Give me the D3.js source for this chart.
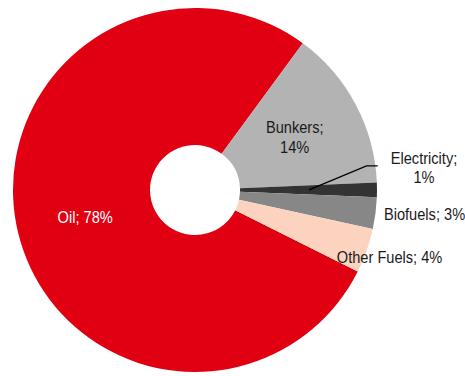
<!DOCTYPE html>
<html>
<head>
<meta charset="utf-8">
<script src="https://cdn.jsdelivr.net/npm/d3@7"></script>
<style>
  html, body { margin: 0; padding: 0; background: #ffffff; }
  svg { display: block; }
</style>
</head>
<body>
<svg id="chart" width="465" height="376"></svg>
<script>
// Data (clockwise order, starting with Oil)
const categories = ["Oil", "Bunkers", "Electricity", "Biofuels", "Other Fuels"];
const values = [77.7, 14.25, 1.3, 2.8, 3.95];
const labelTexts = [["Oil; 78%"], ["Bunkers;", "14%"], ["Electricity;", "1%"], ["Biofuels; 3%"], ["Other Fuels; 4%"]];
const colors = ["#E00012", "#B3B3B3", "#333333", "#878787", "#FCD3BE"];

const svg = d3.select("#chart");
const cx = 195, cy = 190, outerR = 182, innerR = 45;
const startDeg = 116.6;
const start = startDeg * Math.PI / 180;

const pie = d3.pie().sort(null).value(d => d.v)
  .startAngle(start).endAngle(start + 2 * Math.PI);
const data = categories.map((c, i) => ({ c, v: values[i], i }));
const arcs = pie(data);
const arc = d3.arc().innerRadius(innerR).outerRadius(outerR);

const g = svg.append("g").attr("transform", `translate(${cx},${cy})`);
g.selectAll("path.slice").data(arcs).enter().append("path")
  .attr("class", "slice")
  .attr("d", arc)
  .attr("fill", d => colors[d.data.i]);

function polar(angle, r) { return [r * Math.sin(angle), -r * Math.cos(angle)]; }
function mid(d) { return (d.startAngle + d.endAngle) / 2; }

// label layout: inside labels at radius; outside labels offset from outer arc point
const fontSize = 17, lineH = 19.5, sx = 0.86;
const layout = [
  { mode: "in", r: 113, color: "#ffffff" },
  { mode: "in", r: 113, color: "#1a1a1a" },
  { mode: "out", dx: 47, dy: -22.5, color: "#1a1a1a", leader: true },
  { mode: "out", dx: 49, dy: 0.6, color: "#1a1a1a" },
  { mode: "out", dx: 23, dy: 6.5, color: "#1a1a1a" }
];

arcs.forEach(d => {
  const L = layout[d.data.i];
  const a = mid(d);
  let p;
  if (L.mode === "in") p = polar(a, L.r);
  else { const o = polar(a, outerR); p = [o[0] + L.dx, o[1] + L.dy]; }
  const lines = labelTexts[d.data.i];
  const capH = 0.716 * fontSize;
  const blockH = capH + (lines.length - 1) * lineH;
  const firstBase = p[1] - blockH / 2 + capH;
  lines.forEach((t, k) => {
    g.append("text")
      .attr("transform", `translate(${p[0]},${firstBase + k * lineH}) scale(${sx},1)`)
      .attr("text-anchor", "middle")
      .attr("font-family", "Liberation Sans, Arial, sans-serif")
      .attr("font-size", fontSize)
      .attr("fill", L.color)
      .text(t);
  });
  if (L.leader) {
    const s = polar(a, 114);
    const e = polar(a, outerR);
    const knee = [e[0] - 10.5, p[1] - 1.5];
    const end = [e[0] + 0.7, p[1] - 1.5];
    g.append("polyline")
      .attr("points", [s, knee, end].map(q => q.join(",")).join(" "))
      .attr("fill", "none")
      .attr("stroke", "#000000")
      .attr("stroke-width", 1.3);
  }
});
</script>
</body>
</html>
